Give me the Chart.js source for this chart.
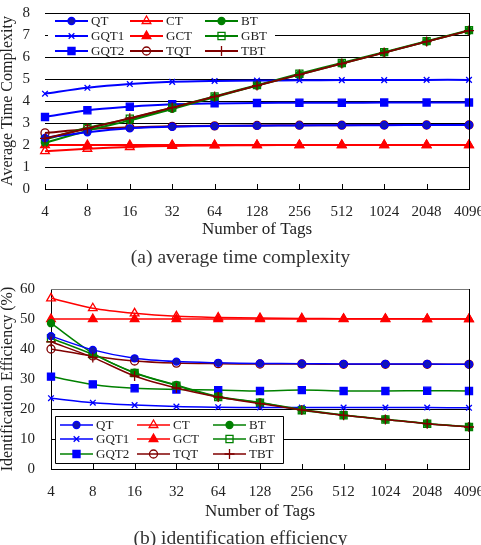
<!DOCTYPE html>
<html>
<head>
<meta charset="utf-8">
<script src="https://cdn.jsdelivr.net/npm/chart.js@4"></script>
<style>
  body { margin: 0; background: #ffffff; }
  #wrap { position: relative; width: 481px; height: 545px; overflow: hidden; }
  canvas { position: absolute; left: 0; }
  .caption {
    position: absolute; left: 0; width: 481px; text-align: center;
    font-family: "Liberation Serif", serif; font-size: 19.5px; color: #333;
  }
</style>
</head>
<body>
<div id="wrap">
  <canvas id="chart-time" style="top:0"></canvas>
  <canvas id="chart-eff" style="top:270px"></canvas>
  <div class="caption" style="top:246px">(a) average time complexity</div>
  <div class="caption" style="top:527px">(b) identification efficiency</div>
</div>
<script>
const tagCounts = ["4", "8", "16", "32", "64", "128", "256", "512", "1024", "2048", "4096"];
const seriesNames = ["QT", "CT", "BT", "GQT1", "GCT", "GBT", "GQT2", "TQT", "TBT"];

// (a) average time complexity
const qtTime = [2.32, 2.58, 2.76, 2.83, 2.86, 2.88, 2.89, 2.9, 2.9, 2.91, 2.91];
const ctTime = [1.72, 1.83, 1.91, 1.96, 1.98, 1.99, 2.0, 2.0, 2.0, 2.0, 2.0];
const btTime = [2.1, 2.65, 3.12, 3.64, 4.17, 4.7, 5.2, 5.7, 6.2, 6.7, 7.2];
const gqt1Time = [4.33, 4.6, 4.77, 4.87, 4.91, 4.93, 4.94, 4.95, 4.95, 4.96, 4.96];
const gctTime = [2.0, 2.0, 2.0, 2.0, 2.0, 2.0, 2.0, 2.0, 2.0, 2.0, 2.0];
const gbtTime = [2.25, 2.78, 3.2, 3.7, 4.21, 4.72, 5.24, 5.73, 6.22, 6.72, 7.22];
const gqt2Time = [3.27, 3.58, 3.74, 3.85, 3.89, 3.91, 3.92, 3.92, 3.93, 3.93, 3.93];
const tqtTime = [2.55, 2.72, 2.8, 2.85, 2.87, 2.89, 2.9, 2.9, 2.91, 2.91, 2.91];
const tbtTime = [2.3, 2.75, 3.22, 3.7, 4.2, 4.7, 5.2, 5.7, 6.2, 6.7, 7.2];

// (b) identification efficiency (%)
const qtEff = [44.3, 39.7, 36.9, 35.8, 35.4, 35.2, 35.1, 35.0, 35.0, 35.0, 34.9];
const ctEff = [56.9, 53.6, 51.9, 50.9, 50.5, 50.3, 50.2, 50.1, 50.1, 50.0, 50.0];
const btEff = [48.6, 38.6, 32.1, 28.0, 24.2, 22.2, 19.8, 18.0, 16.6, 15.2, 14.1];
const gqt1Eff = [23.6, 22.1, 21.3, 20.8, 20.6, 20.5, 20.5, 20.5, 20.5, 20.5, 20.4];
const gctEff = [50.0, 50.0, 50.0, 50.0, 50.0, 50.0, 50.0, 50.0, 50.0, 50.0, 50.0];
const gbtEff = [43.6, 38.2, 32.0, 27.8, 24.0, 22.1, 19.6, 17.9, 16.5, 15.1, 14.0];
const gqt2Eff = [30.8, 28.2, 26.9, 26.5, 26.3, 26.0, 26.3, 26.0, 26.0, 26.1, 26.0];
const tqtEff = [40.0, 37.7, 36.0, 35.3, 35.1, 35.0, 35.0, 34.9, 34.9, 34.9, 34.9];
const tbtEff = [42.4, 37.2, 31.0, 27.0, 24.0, 21.8, 19.7, 17.9, 16.5, 15.1, 14.0];

const timeTicks = [0, 1, 2, 3, 4, 5, 6, 7, 8];
const effTicks = [0, 10, 20, 30, 40, 50, 60];

const BLUE = "#0000ff";
const RED = "#ff0000";
const GREEN = "#008000";
const MAROON = "#800000";
const NONE = "rgba(0,0,0,0)";
const SERIF = '"Liberation Serif", "DejaVu Serif", serif';

Chart.defaults.font.family = SERIF;
Chart.defaults.color = "#222";
Chart.defaults.animation = false;
Chart.defaults.responsive = false;

// marker look per series: [line colour, marker style, fill, radius]
const markerLook = {
  QT: [BLUE, "circle", "#1515b0", 3.5],
  CT: [RED, "triangle", NONE, 5],
  BT: [GREEN, "circle", GREEN, 3.5],
  GQT1: [BLUE, "crossRot", BLUE, 4],
  GCT: [RED, "triangle", RED, 5],
  GBT: [GREEN, "rect", NONE, 5],
  GQT2: [BLUE, "rect", BLUE, 5],
  TQT: [MAROON, "circle", NONE, 4],
  TBT: [MAROON, "cross", MAROON, 5],
};

const makeDataset = (name, data, lineWidth, lineColor) => {
  const [color, style, fill, radius] = markerLook[name];
  return {
    label: name,
    data,
    borderColor: lineColor || color,
    borderWidth: lineWidth,
    pointStyle: style,
    pointRadius: radius,
    pointBorderColor: color,
    pointBackgroundColor: fill,
    pointBorderWidth: 1.3,
    tension: 0.3,
    fill: false,
    // the TBT line sits on top of the green BT/GBT lines in the original
    order: name === "TBT" ? -1 : 0,
  };
};

// legend inside the plot area, 3 columns x 3 rows
const boxLegend = {
  id: "boxLegend",
  afterDatasetsDraw(chart, _args, opts) {
    const { ctx } = chart;
    const b = opts.box;
    ctx.save();
    ctx.fillStyle = "#ffffff";
    ctx.fillRect(b.x1, b.y1, b.x2 - b.x1, b.y2 - b.y1);
    ctx.strokeStyle = "#000";
    ctx.lineWidth = 1;
    ctx.beginPath();
    if (opts.fullBorder) {
      ctx.rect(b.x1 + 0.5, b.y1 + 0.5, b.x2 - b.x1, b.y2 - b.y1);
    } else {
      ctx.moveTo(b.x1, b.y2 + 0.5);
      ctx.lineTo(b.x2, b.y2 + 0.5);
    }
    ctx.stroke();
    ctx.font = `${opts.fontSize}px ${SERIF}`;
    ctx.textBaseline = "middle";
    ctx.textAlign = "left";
    chart.data.datasets.forEach((ds, i) => {
      const col = i % 3;
      const row = Math.floor(i / 3);
      const x = opts.cols[col];
      const y = opts.rows[row];
      ctx.strokeStyle = ds.borderColor;
      ctx.lineWidth = ds.borderWidth;
      ctx.beginPath();
      ctx.moveTo(x, y);
      ctx.lineTo(x + opts.lineLen, y);
      ctx.stroke();
      ctx.fillStyle = ds.pointBackgroundColor;
      ctx.strokeStyle = ds.pointBorderColor;
      ctx.lineWidth = ds.pointBorderWidth;
      Chart.helpers.drawPoint(ctx, {
        pointStyle: ds.pointStyle,
        radius: ds.pointRadius,
        borderWidth: ds.pointBorderWidth,
        rotation: 0,
      }, x + opts.lineLen / 2, y);
      ctx.fillStyle = "#222";
      ctx.fillText(ds.label, x + opts.lineLen + 3, y + 1);
    });
    ctx.restore();
  },
};

// small inward tick marks on the x axis, plus top/right frame
const frame = {
  id: "frame",
  afterDatasetsDraw(chart, _args, opts) {
    const { ctx, chartArea: a, scales } = chart;
    ctx.save();
    ctx.lineWidth = 1;
    ctx.strokeStyle = "#000";
    ctx.beginPath();
    scales.x.ticks.forEach((_t, i) => {
      const px = Math.round(scales.x.getPixelForTick(i)) + 0.5;
      ctx.moveTo(px, a.bottom);
      ctx.lineTo(px, a.bottom - 5);
    });
    ctx.moveTo(Math.round(a.right) + 0.5, a.bottom);
    ctx.lineTo(Math.round(a.right) + 0.5, a.top);
    ctx.stroke();
    ctx.strokeStyle = opts.topColor;
    ctx.beginPath();
    ctx.moveTo(a.left, Math.round(a.top) + 0.5);
    ctx.lineTo(a.right, Math.round(a.top) + 0.5);
    ctx.stroke();
    ctx.restore();
  },
};

const buildChart = (id, cfg) => {
  const canvas = document.getElementById(id);
  canvas.width = 481;
  canvas.height = cfg.height;
  new Chart(canvas, {
    type: "line",
    data: { labels: tagCounts, datasets: cfg.datasets },
    plugins: [boxLegend, frame],
    options: {
      layout: { padding: { left: 0, right: 12, top: cfg.top, bottom: 0 } },
      plugins: {
        legend: { display: false },
        tooltip: { enabled: false },
        boxLegend: cfg.legend,
        frame: { topColor: cfg.topColor },
      },
      scales: {
        x: {
          offset: false,
          grid: { display: false, drawTicks: false },
          border: { display: true, color: "#000", width: 1 },
          ticks: { padding: 14, font: { size: 15 }, maxRotation: 0, autoSkip: false },
          title: {
            display: true,
            text: "Number of Tags",
            font: { size: 17, lineHeight: 1 },
            padding: { top: 0, bottom: cfg.xTitlePad },
          },
          afterFit: (s) => {
            s.height = cfg.height - cfg.bottom;
            s.paddingLeft = 0;
            s.paddingRight = 0;
          },
        },
        y: {
          min: cfg.ticks[0],
          max: cfg.ticks[cfg.ticks.length - 1],
          afterBuildTicks: (s) => {
            s.ticks = cfg.ticks.map((v) => ({ value: v }));
          },
          grid: {
            drawTicks: false,
            color: (c) => cfg.gridColor(c.tick.value),
            lineWidth: 1,
          },
          border: { display: cfg.leftBorder, color: "#000" },
          ticks: { padding: cfg.left - cfg.labelRight, font: { size: 15 } },
          title: {
            display: true,
            text: cfg.yTitle,
            font: { size: 16, lineHeight: 1 },
            padding: 0,
          },
          afterFit: (s) => {
            s.width = cfg.left;
            s.paddingTop = 0;
            s.paddingBottom = 0;
          },
        },
      },
    },
  });
};

buildChart("chart-time", {
  height: 270,
  top: 13,
  bottom: 189,
  left: 45,
  labelRight: 30,
  xTitlePad: 31.5,
  ticks: timeTicks,
  yTitle: "Average Time Complexity",
  leftBorder: false,
  topColor: "#000",
  gridColor: (v) => (v === 0 || v === 8 ? NONE : "#000"),
  datasets: [
    makeDataset("QT", qtTime, 2),
    makeDataset("CT", ctTime, 2),
    makeDataset("BT", btTime, 2),
    makeDataset("GQT1", gqt1Time, 2),
    makeDataset("GCT", gctTime, 2),
    makeDataset("GBT", gbtTime, 2),
    makeDataset("GQT2", gqt2Time, 2),
    makeDataset("TQT", tqtTime, 2),
    makeDataset("TBT", tbtTime, 2),
  ],
  legend: {
    box: { x1: 48, y1: 14, x2: 275, y2: 57 },
    fullBorder: false,
    cols: [55, 130, 205],
    rows: [21, 36, 51],
    lineLen: 33,
    fontSize: 13,
  },
});

buildChart("chart-eff", {
  height: 275,
  top: 19,
  bottom: 199,
  left: 51,
  labelRight: 35,
  xTitlePad: 24.5,
  ticks: effTicks,
  yTitle: "Identification Efficiency (%)",
  leftBorder: true,
  topColor: "#777",
  gridColor: (v) => (v === 10 || v === 20 ? "#000" : NONE),
  datasets: [
    makeDataset("QT", qtEff, 1.5),
    makeDataset("CT", ctEff, 1.5),
    makeDataset("BT", btEff, 1.5),
    makeDataset("GQT1", gqt1Eff, 1.5),
    makeDataset("GCT", gctEff, 1.5),
    makeDataset("GBT", gbtEff, 1.5),
    makeDataset("GQT2", gqt2Eff, 1.5, GREEN),
    makeDataset("TQT", tqtEff, 1.5),
    makeDataset("TBT", tbtEff, 1.5),
  ],
  legend: {
    box: { x1: 55, y1: 146, x2: 283, y2: 193 },
    fullBorder: true,
    cols: [60, 137, 213],
    rows: [155, 169, 184],
    lineLen: 33,
    fontSize: 13,
  },
});
</script>
</body>
</html>
